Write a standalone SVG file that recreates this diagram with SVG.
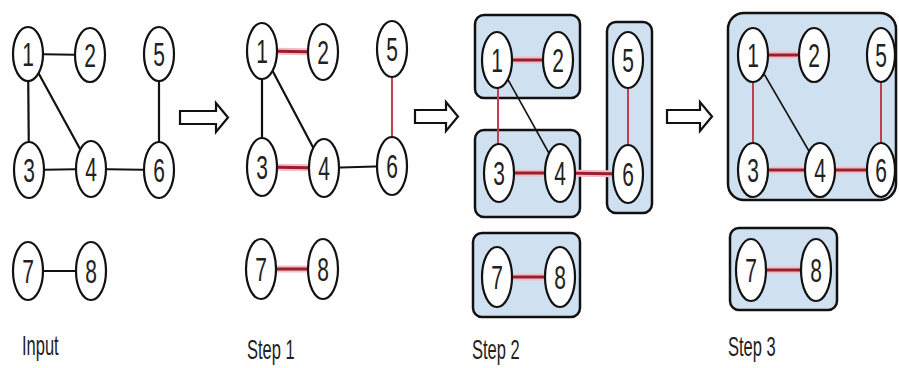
<svg xmlns="http://www.w3.org/2000/svg" width="899" height="368" viewBox="0 0 899 368">
<style>
.n ellipse{fill:#fff;stroke:#111;stroke-width:2.2}
.n text,.lbl{font-family:"Liberation Sans",Arial,sans-serif;fill:#222}
.n text{font-size:21px;text-anchor:middle}
.lbl{font-size:16.5px}
.k{stroke:#111;stroke-width:2.2}
.kt{stroke:#111;stroke-width:1.6}
.halo{stroke:#f2bcc4;stroke-width:7}
.core{stroke:#98202e;stroke-width:3}
.thin{stroke:#c2404c;stroke-width:2}
.box{fill:#cfe0f0;stroke:#111;stroke-width:2.5}
.arr{fill:#fff;stroke:#111;stroke-width:2.2;stroke-linejoin:miter}
</style>
<rect width="899" height="368" fill="#fff"/>

<g id="clusters">
<rect class="box" x="475" y="15" width="105" height="83" rx="9"/>
<rect class="box" x="475" y="130" width="105" height="87" rx="9"/>
<rect class="box" x="607" y="22" width="45" height="191" rx="9"/>
<rect class="box" x="473" y="233" width="107" height="84" rx="9"/>
<rect class="box" x="728" y="13" width="168" height="187" rx="16"/>
<rect class="box" x="730" y="228" width="107" height="82" rx="9"/>
</g>

<g id="connectors" fill="none">
<!-- Input -->
<line class="k" x1="28" y1="54" x2="90" y2="55"/>
<line class="k" x1="28" y1="54" x2="29" y2="170"/>
<line class="k" x1="28" y1="54" x2="91" y2="169"/>
<line class="k" x1="159" y1="54" x2="159" y2="170"/>
<line class="k" x1="29" y1="170" x2="91" y2="169"/>
<line class="k" x1="91" y1="169" x2="159" y2="170"/>
<line class="k" x1="28" y1="271" x2="91" y2="271"/>
<!-- Step 1 -->
<line class="halo" x1="262" y1="51" x2="323" y2="52"/><line class="core" x1="262" y1="51" x2="323" y2="52"/>
<line class="k" x1="262" y1="51" x2="262" y2="167"/>
<line class="k" x1="262" y1="51" x2="324" y2="168"/>
<line class="thin" x1="392" y1="49" x2="392" y2="166"/>
<line class="halo" x1="262" y1="167" x2="324" y2="168"/><line class="core" x1="262" y1="167" x2="324" y2="168"/>
<line class="k" x1="324" y1="168" x2="392" y2="166"/>
<line class="halo" x1="261" y1="269" x2="323" y2="269"/><line class="core" x1="261" y1="269" x2="323" y2="269"/>
<!-- Step 2 -->
<line class="halo" x1="497" y1="60" x2="558" y2="60"/><line class="core" x1="497" y1="60" x2="558" y2="60"/>
<line class="thin" x1="498" y1="60" x2="498" y2="173"/>
<line class="kt" x1="497" y1="60" x2="560" y2="173"/>
<line class="thin" x1="628" y1="60" x2="628" y2="174"/>
<line class="halo" x1="499" y1="173" x2="560" y2="173"/><line class="core" x1="499" y1="173" x2="560" y2="173"/>
<line class="halo" x1="560" y1="173" x2="628" y2="174"/><line class="core" x1="560" y1="173" x2="628" y2="174"/>
<line class="halo" x1="497" y1="277" x2="560" y2="277"/><line class="core" x1="497" y1="277" x2="560" y2="277"/>
<!-- Step 3 -->
<line class="halo" x1="753" y1="55" x2="814" y2="55"/><line class="core" x1="753" y1="55" x2="814" y2="55"/>
<line class="thin" x1="753" y1="55" x2="753" y2="170"/>
<line class="kt" x1="753" y1="55" x2="820" y2="170"/>
<line class="thin" x1="881" y1="55" x2="881" y2="170"/>
<line class="halo" x1="753" y1="170" x2="820" y2="170"/><line class="core" x1="753" y1="170" x2="820" y2="170"/>
<line class="halo" x1="820" y1="170" x2="881" y2="170"/><line class="core" x1="820" y1="170" x2="881" y2="170"/>
<line class="halo" x1="751" y1="270" x2="816" y2="270"/><line class="core" x1="751" y1="270" x2="816" y2="270"/>
</g>

<g id="arrows">
<path class="arr" d="M180,111 H216 V103 L228,117.5 L216,132 V124 H180 Z"/>
<path class="arr" d="M415,110 H446 V102 L458,116.5 L446,131 V123 H415 Z"/>
<path class="arr" d="M667,110 H700 V102 L712,116.5 L700,131 V123 H667 Z"/>
</g>

<!-- Input nodes -->
<g id="in-1" class="n"><ellipse cx="28" cy="54" rx="15" ry="27"/><text transform="translate(28,66) scale(1,1.55)">1</text></g>
<g id="in-2" class="n"><ellipse cx="90" cy="55" rx="15" ry="27"/><text transform="translate(90,67) scale(1,1.55)">2</text></g>
<g id="in-5" class="n"><ellipse cx="159" cy="54" rx="15" ry="27"/><text transform="translate(159,66) scale(1,1.55)">5</text></g>
<g id="in-3" class="n"><ellipse cx="29" cy="170" rx="15" ry="28"/><text transform="translate(29,182) scale(1,1.55)">3</text></g>
<g id="in-4" class="n"><ellipse cx="91" cy="169" rx="15" ry="28"/><text transform="translate(91,181) scale(1,1.55)">4</text></g>
<g id="in-6" class="n"><ellipse cx="159" cy="170" rx="15" ry="28"/><text transform="translate(159,182) scale(1,1.55)">6</text></g>
<g id="in-7" class="n"><ellipse cx="28" cy="271" rx="15" ry="29"/><text transform="translate(28,283) scale(1,1.55)">7</text></g>
<g id="in-8" class="n"><ellipse cx="91" cy="271" rx="15" ry="29"/><text transform="translate(91,283) scale(1,1.55)">8</text></g>

<!-- Step 1 nodes -->
<g id="s1-1" class="n"><ellipse cx="262" cy="51" rx="15" ry="28"/><text transform="translate(262,63) scale(1,1.55)">1</text></g>
<g id="s1-2" class="n"><ellipse cx="323" cy="52" rx="15" ry="28"/><text transform="translate(323,64) scale(1,1.55)">2</text></g>
<g id="s1-5" class="n"><ellipse cx="392" cy="49" rx="15" ry="28"/><text transform="translate(392,61) scale(1,1.55)">5</text></g>
<g id="s1-3" class="n"><ellipse cx="262" cy="167" rx="15" ry="29"/><text transform="translate(262,179) scale(1,1.55)">3</text></g>
<g id="s1-4" class="n"><ellipse cx="324" cy="168" rx="15" ry="29"/><text transform="translate(324,180) scale(1,1.55)">4</text></g>
<g id="s1-6" class="n"><ellipse cx="392" cy="166" rx="15" ry="29"/><text transform="translate(392,178) scale(1,1.55)">6</text></g>
<g id="s1-7" class="n"><ellipse cx="261" cy="269" rx="15" ry="30"/><text transform="translate(261,281) scale(1,1.55)">7</text></g>
<g id="s1-8" class="n"><ellipse cx="323" cy="269" rx="15" ry="30"/><text transform="translate(323,281) scale(1,1.55)">8</text></g>

<!-- Step 2 nodes -->
<g id="s2-1" class="n"><ellipse cx="497" cy="60" rx="15" ry="28"/><text transform="translate(497,72) scale(1,1.55)">1</text></g>
<g id="s2-2" class="n"><ellipse cx="558" cy="60" rx="15" ry="28"/><text transform="translate(558,72) scale(1,1.55)">2</text></g>
<g id="s2-5" class="n"><ellipse cx="628" cy="60" rx="15" ry="28"/><text transform="translate(628,72) scale(1,1.55)">5</text></g>
<g id="s2-3" class="n"><ellipse cx="499" cy="173" rx="15" ry="29"/><text transform="translate(499,185) scale(1,1.55)">3</text></g>
<g id="s2-4" class="n"><ellipse cx="560" cy="173" rx="15" ry="29"/><text transform="translate(560,185) scale(1,1.55)">4</text></g>
<g id="s2-6" class="n"><ellipse cx="628" cy="174" rx="15" ry="29"/><text transform="translate(628,186) scale(1,1.55)">6</text></g>
<g id="s2-7" class="n"><ellipse cx="497" cy="277" rx="15" ry="30"/><text transform="translate(497,289) scale(1,1.55)">7</text></g>
<g id="s2-8" class="n"><ellipse cx="560" cy="277" rx="15" ry="30"/><text transform="translate(560,289) scale(1,1.55)">8</text></g>

<!-- Step 3 nodes -->
<g id="s3-1" class="n"><ellipse cx="753" cy="55" rx="15" ry="27"/><text transform="translate(753,67) scale(1,1.55)">1</text></g>
<g id="s3-2" class="n"><ellipse cx="814" cy="55" rx="15" ry="27"/><text transform="translate(814,67) scale(1,1.55)">2</text></g>
<g id="s3-5" class="n"><ellipse cx="881" cy="55" rx="14" ry="27"/><text transform="translate(881,67) scale(1,1.55)">5</text></g>
<g id="s3-3" class="n"><ellipse cx="753" cy="170" rx="15" ry="27"/><text transform="translate(753,182) scale(1,1.55)">3</text></g>
<g id="s3-4" class="n"><ellipse cx="820" cy="170" rx="15" ry="27"/><text transform="translate(820,182) scale(1,1.55)">4</text></g>
<g id="s3-6" class="n"><ellipse cx="881" cy="170" rx="14" ry="27"/><text transform="translate(881,182) scale(1,1.55)">6</text></g>
<g id="s3-7" class="n"><ellipse cx="751" cy="270" rx="15" ry="31"/><text transform="translate(751,282) scale(1,1.55)">7</text></g>
<g id="s3-8" class="n"><ellipse cx="816" cy="270" rx="15" ry="31"/><text transform="translate(816,282) scale(1,1.55)">8</text></g>

<g id="labels">
<text class="lbl" transform="translate(22,355) scale(1,1.7)">Input</text>
<text class="lbl" transform="translate(247,359) scale(1,1.7)">Step 1</text>
<text class="lbl" transform="translate(472,359) scale(1,1.7)">Step 2</text>
<text class="lbl" transform="translate(728,356) scale(1,1.7)">Step 3</text>
</g>
</svg>
